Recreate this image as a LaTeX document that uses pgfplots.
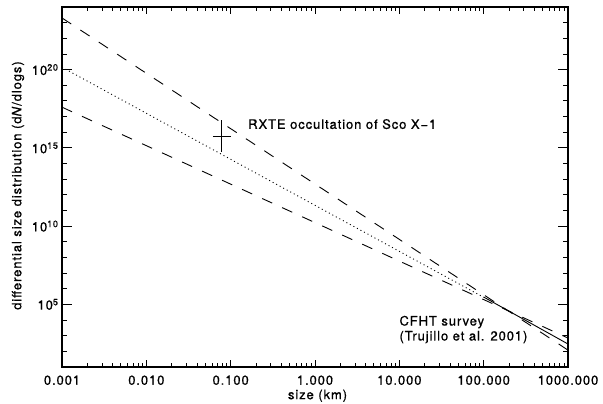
\documentclass[border=0pt]{standalone}
\usepackage{pgfplots}
\pgfplotsset{compat=1.18}
\usepackage{fontspec}
\setmainfont[LetterSpace=7,FakeBold=0.8]{TeX Gyre Heros}
\begin{document}
\begin{tikzpicture}[font=\fontsize{13bp}{15bp}\selectfont]
\begin{axis}[
 scale only axis, width=506bp, height=360bp,
 xmode=log, ymode=log, log basis x=10, log basis y=10,
 xmin=0.001, xmax=1000, ymin=1e1, ymax=1e24,
 xtick={0.001,0.01,0.1,1,10,100,1000},
 xticklabels={0.001,0.010,0.100,1.000,10.000,100.000,1000.000},
 minor xtick={0.002,0.003,0.004,0.005,0.006,0.007,0.008,0.009,
   0.02,0.03,0.04,0.05,0.06,0.07,0.08,0.09,
   0.2,0.3,0.4,0.5,0.6,0.7,0.8,0.9,
   2,3,4,5,6,7,8,9,20,30,40,50,60,70,80,90,
   200,300,400,500,600,700,800,900},
 ytick={1e5,1e10,1e15,1e20},
 yticklabels={10\textsuperscript{5},10\textsuperscript{10},10\textsuperscript{15},10\textsuperscript{20}},
 minor ytick={1e2,1e3,1e4,1e6,1e7,1e8,1e9,1e11,1e12,1e13,1e14,1e16,1e17,1e18,1e19,1e21,1e22,1e23},
 tick pos=both, tick align=inside,
 xtick style={/pgfplots/major tick length=7bp,/pgfplots/minor tick length=4bp},
 ytick style={/pgfplots/major tick length=10bp,/pgfplots/minor tick length=5bp},
 axis line style={line width=1.2bp},
 every tick/.style={black, line width=0.9bp},
 every x tick label/.append style={yshift=-5bp},
 xlabel={size (km)},
 ylabel={differential size distribution (d\textit{N}/dlogs)},
 xlabel style={at={(axis description cs:0.505,-0.08)}, anchor=center},
 ylabel style={at={(axis description cs:-0.087,0.504)}, anchor=center, rotate=0},
 clip=true,
]
\addplot[black, line width=0.9bp, dash pattern=on 11bp off 11bp] coordinates {(0.001,2.0e23) (1000,120)};
\addplot[black, line width=0.9bp, dash pattern=on 1bp off 3bp] coordinates {(0.001,1.41e20) (100,2.82e5)};
\addplot[black, line width=0.9bp, dash pattern=on 11bp off 11bp] coordinates {(0.001,3.98e17) (1000,708)};
\addplot[black, line width=0.9bp] coordinates {(100,2.95e5) (1000,295)};
\addplot[black, line width=0.9bp] coordinates {(0.078,5.75e14) (0.078,5.75e16)};
\addplot[black, line width=0.9bp] coordinates {(0.0614,5.75e15) (0.1,5.75e15)};
\node[anchor=west, inner sep=0pt] at (axis cs:0.1607,3.3e16) {RXTE occultation of Sco X\textminus1};
\node[anchor=west, inner sep=0pt] at (axis cs:10,7.4e3) {CFHT survey};
\node[anchor=west, inner sep=0pt] at (axis cs:10,8.1e2) {(Trujillo et al. 2001)};
\end{axis}
\pgfresetboundingbox
\path (-62bp,-37bp) rectangle (541bp,367bp);
\end{tikzpicture}
\end{document}
